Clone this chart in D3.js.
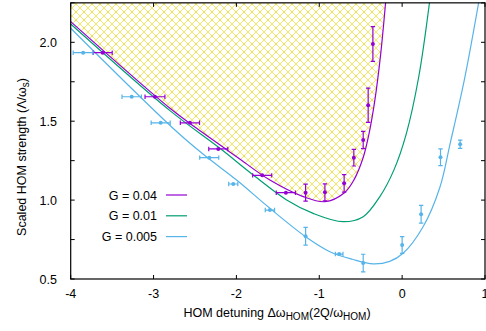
<!DOCTYPE html>
<html>
<head>
<meta charset="utf-8">
<script src="https://cdn.jsdelivr.net/npm/d3@7"></script>
<style>
  body { margin: 0; background: #fff; }
  text { font-family: "Liberation Sans", Arial, sans-serif; }
</style>
</head>
<body>
<div id="chart"></div>
<script>
// threshold curves as [detuning, strength]
var curveG004 = [[-4.0, 2.131], [-2.802, 1.582], [-2.48, 1.455], [-1.998, 1.275],
    [-1.596, 1.127], [-1.194, 1.022], [-0.932, 0.99], [-0.7, 1.045], [-0.58, 1.13],
    [-0.47, 1.27], [-0.4, 1.42], [-0.33, 1.63], [-0.26, 1.92], [-0.197, 2.268]];
var curveG001 = [[-4.0, 2.116], [-2.802, 1.567], [-2.199, 1.328], [-1.797, 1.159], [-1.394, 1.001],
    [-1.074, 0.916], [-0.712, 0.863], [-0.47, 0.895], [-0.269, 1.022], [-0.1, 1.19],
    [0.05, 1.42], [0.2, 1.78], [0.334, 2.268]];
var curveG0005 = [[-4.0, 2.089], [-2.742, 1.444], [-2.4, 1.29], [-1.998, 1.127], [-1.596, 0.948],
    [-1.165, 0.768], [-0.872, 0.673], [-0.6, 0.625], [-0.35, 0.596], [-0.15, 0.612],
    [0.012, 0.663], [0.253, 0.831], [0.455, 1.08], [0.58, 1.36], [0.75, 1.76], [0.929, 2.268]];

// measured points (G = 0.04 set, purple)
var purpleX = [-3.614, -2.983, -2.561, -2.219, -1.689, -1.403, -1.165, -0.932, -0.70, -0.583, -0.47, -0.41, -0.353];
var purpleY = [1.934, 1.655, 1.49, 1.324, 1.157, 1.047, 1.047, 1.049, 1.106, 1.269, 1.381, 1.601, 1.989];
var purpleXErr = [0.115, 0.12, 0.116, 0.115, 0.115, 0.116, 0, 0, 0, 0, 0, 0, 0];
var purpleYErr = [0, 0, 0, 0, 0, 0, 0.054, 0.054, 0.055, 0.053, 0.055, 0.109, 0.11];

// measured points (G = 0.005 set, light blue)
var blueX = [-3.85, -3.264, -2.914, -2.328, -2.038, -1.596, -1.165, -0.76, -0.47, 0.0, 0.229, 0.463, 0.70];
var blueY = [1.934, 1.655, 1.49, 1.269, 1.102, 0.937, 0.771, 0.658, 0.601, 0.715, 0.91, 1.271, 1.354];
var blueXErr = [0.12, 0.117, 0.115, 0.115, 0.055, 0.056, 0, 0.046, 0, 0, 0, 0, 0];
var blueYErr = [0, 0, 0, 0, 0, 0, 0.056, 0, 0.056, 0.053, 0.056, 0.053, 0.026];

var xTicks = [-4, -3, -2, -1, 0, 1];
var yTicks = [0.5, 0.75, 1.0, 1.25, 1.5, 1.75, 2.0, 2.25];
var yLabels = [0.5, 1.0, 1.5, 2.0];
var legendNames = ["G = 0.04", "G = 0.01", "G = 0.005"];

var purple = "#9400d3", green = "#009e73", blue = "#56b4e9";

var w = 486, h = 331;
var svg = d3.select("#chart").append("svg")
    .attr("width", w)
    .attr("height", h);

var x = d3.scaleLinear().domain([-4, 1]).range([70.7, 485]);
var y = d3.scaleLinear().domain([0.5, 2.25]).range([279, 2.85]);

var defs = svg.append("defs");
defs.append("clipPath").attr("id", "plotclip")
    .append("rect")
    .attr("x", x(-4)).attr("y", y(2.25))
    .attr("width", x(1) - x(-4)).attr("height", y(0.5) - y(2.25));

// yellow crosshatch
var pat = defs.append("pattern")
    .attr("id", "hatch")
    .attr("patternUnits", "userSpaceOnUse")
    .attr("width", 8).attr("height", 8);
pat.append("path")
    .attr("d", "M-1,-1L9,9M-1,9L9,-1")
    .attr("stroke", "#f3e44e")
    .attr("stroke-width", 0.85)
    .attr("fill", "none");
pat.append("circle").attr("cx", 4).attr("cy", 4).attr("r", 0.85).attr("fill", "#eed832");

var plot = svg.append("g").attr("clip-path", "url(#plotclip)");

var area = d3.area()
    .x(function(d) { return x(d[0]); })
    .y0(y(2.35))
    .y1(function(d) { return y(d[1]); })
    .curve(d3.curveCatmullRom.alpha(0.5));

plot.append("path")
    .datum(curveG004)
    .attr("d", area)
    .attr("fill", "url(#hatch)");

var line = d3.line()
    .x(function(d) { return x(d[0]); })
    .y(function(d) { return y(d[1]); })
    .curve(d3.curveCatmullRom.alpha(0.5));

var curves = [[curveG004, purple], [curveG001, green], [curveG0005, blue]];
curves.forEach(function(c) {
    plot.append("path")
        .datum(c[0])
        .attr("d", line)
        .attr("fill", "none")
        .attr("stroke", c[1])
        .attr("stroke-width", 1.2);
});

// error bars + points
function drawPoints(xs, ys, xe, ye, color) {
    var g = plot.append("g")
        .attr("stroke", color)
        .attr("stroke-width", 1.2)
        .attr("fill", color);
    var cap = 2.2;
    xs.forEach(function(xv, i) {
        var px = x(xv), py = y(ys[i]);
        if (xe[i] > 0) {
            var x0 = x(xv - xe[i]), x1 = x(xv + xe[i]);
            g.append("path")
                .attr("fill", "none")
                .attr("d", "M" + x0 + "," + py + "H" + x1 +
                    "M" + x0 + "," + (py - cap) + "V" + (py + cap) +
                    "M" + x1 + "," + (py - cap) + "V" + (py + cap));
        }
        if (ye[i] > 0) {
            var y0 = y(ys[i] - ye[i]), y1 = y(ys[i] + ye[i]);
            g.append("path")
                .attr("fill", "none")
                .attr("d", "M" + px + "," + y0 + "V" + y1 +
                    "M" + (px - cap) + "," + y0 + "H" + (px + cap) +
                    "M" + (px - cap) + "," + y1 + "H" + (px + cap));
        }
        g.append("circle")
            .attr("cx", px).attr("cy", py).attr("r", 2)
            .attr("stroke", "none");
    });
}
drawPoints(purpleX, purpleY, purpleXErr, purpleYErr, purple);
drawPoints(blueX, blueY, blueXErr, blueYErr, blue);

// frame and inward ticks
var axes = svg.append("g").attr("stroke", "#000").attr("fill", "none");
axes.append("rect")
    .attr("x", x(-4)).attr("y", y(2.25))
    .attr("width", x(1) - x(-4)).attr("height", y(0.5) - y(2.25))
    .attr("stroke-width", 1.2);
var tl = 4;
xTicks.forEach(function(t) {
    axes.append("path").attr("d", "M" + x(t) + "," + y(0.5) + "v" + (-tl) +
        "M" + x(t) + "," + y(2.25) + "v" + tl);
});
yTicks.forEach(function(t) {
    axes.append("path").attr("d", "M" + x(-4) + "," + y(t) + "h" + tl +
        "M" + x(1) + "," + y(t) + "h" + (-tl));
});

var labels = svg.append("g").attr("font-size", "12.5px").attr("fill", "#000");
xTicks.forEach(function(t) {
    labels.append("text")
        .attr("x", x(t)).attr("y", 298)
        .attr("text-anchor", "middle")
        .text(t);
});
yLabels.forEach(function(t) {
    labels.append("text")
        .attr("x", 57).attr("y", y(t) + 4.5)
        .attr("text-anchor", "end")
        .text(d3.format(".1f")(t));
});

// axis titles
var xt = labels.append("text")
    .attr("x", 277).attr("y", 317)
    .attr("text-anchor", "middle");
xt.append("tspan").text("HOM detuning \u0394\u03c9");
xt.append("tspan").attr("font-size", "10px").attr("dy", 3).text("HOM");
xt.append("tspan").attr("dy", -3).text("(2Q/\u03c9");
xt.append("tspan").attr("font-size", "10px").attr("dy", 3).text("HOM");
xt.append("tspan").attr("dy", -3).text(")");

var yt = labels.append("text")
    .attr("transform", "translate(26,157) rotate(-90)")
    .attr("text-anchor", "middle");
yt.append("tspan").text("Scaled HOM strength (\u039b/\u03c9");
yt.append("tspan").attr("font-size", "10px").attr("dy", 3).text("s");
yt.append("tspan").attr("dy", -3).text(")");

// legend
var legendColors = [purple, green, blue];
legendNames.forEach(function(name, i) {
    var ly = 195 + i * 20.8;
    labels.append("text")
        .attr("x", 157).attr("y", ly + 4.5)
        .attr("text-anchor", "end")
        .text(name);
    svg.append("line")
        .attr("x1", 166).attr("x2", 187)
        .attr("y1", ly).attr("y2", ly)
        .attr("stroke", legendColors[i])
        .attr("stroke-width", 1.2);
});
</script>
</body>
</html>
